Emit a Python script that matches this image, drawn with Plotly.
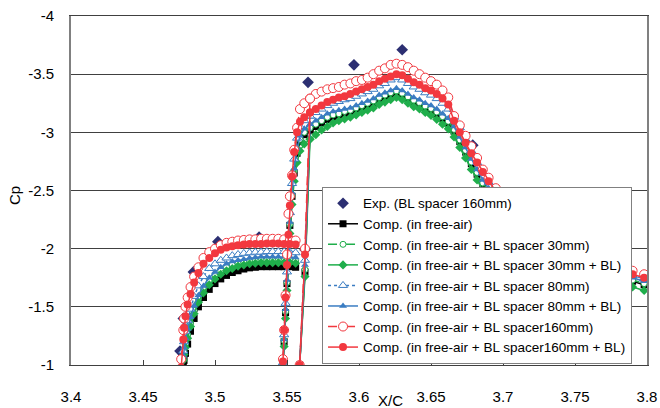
import plotly.graph_objects as go

# ---------------- data ----------------
# element 1 (upper surface)
X1 = [3.4765, 3.478, 3.4785, 3.4795, 3.481, 3.483, 3.4855, 3.4885, 3.492, 3.496, 3.5, 3.504, 3.508,
      3.512, 3.516, 3.52, 3.524, 3.528, 3.532, 3.536, 3.54, 3.544, 3.548, 3.552, 3.556]
# element 2 (leading edge + upper surface)
X2 = [3.5472, 3.548, 3.549, 3.550, 3.551, 3.552, 3.5535, 3.555, 3.557, 3.559, 3.562, 3.566, 3.570,
      3.574, 3.578, 3.582, 3.586, 3.590, 3.594, 3.598, 3.602, 3.606, 3.610, 3.614, 3.618, 3.622,
      3.626, 3.630, 3.634, 3.638, 3.642, 3.646, 3.650, 3.654, 3.658, 3.662, 3.666, 3.670, 3.674,
      3.678, 3.682, 3.686, 3.690, 3.695, 3.700, 3.705, 3.710, 3.716, 3.722, 3.728, 3.735, 3.742,
      3.750, 3.758, 3.766, 3.774, 3.782, 3.790, 3.798]
# element 2 (lower branch of leading edge)
X3 = [3.5588, 3.5625, 3.566]

free_air_1 = [-0.85, -1.0, -1.04, -1.1, -1.18, -1.29, -1.40, -1.50, -1.58, -1.65, -1.70, -1.74, -1.77,
              -1.795, -1.81, -1.825, -1.835, -1.84, -1.845, -1.845, -1.845, -1.845, -1.845, -1.845, -1.84]
free_air_2 = [-1.0, -1.2, -1.45, -1.7, -1.95, -2.2, -2.45, -2.65, -2.82, -2.92, -2.98, -3.02, -3.05,
              -3.08, -3.11, -3.13, -3.145, -3.16, -3.17, -3.19, -3.21, -3.23, -3.25, -3.28, -3.30, -3.32,
              -3.34, -3.32, -3.29, -3.26, -3.24, -3.21, -3.19, -3.16, -3.12, -3.08, -3.01, -2.92, -2.83,
              -2.73, -2.64, -2.55, -2.48, -2.41, -2.34, -2.28, -2.22, -2.16, -2.10, -2.05, -1.99, -1.94,
              -1.89, -1.85, -1.81, -1.78, -1.75, -1.72, -1.69]
free_air_3 = [-1.0, -1.8, -3.02]

sp30_1 = [-0.89, -1.06, -1.12, -1.18, -1.26, -1.36, -1.47, -1.57, -1.65, -1.72, -1.77, -1.81, -1.84,
          -1.86, -1.875, -1.885, -1.89, -1.895, -1.9, -1.9, -1.9, -1.9, -1.9, -1.9, -1.895]
sp30_2 = [-1.0, -1.21, -1.46, -1.71, -1.96, -2.21, -2.46, -2.67, -2.84, -2.94, -3.0, -3.04, -3.07,
          -3.1, -3.13, -3.15, -3.16, -3.18, -3.19, -3.21, -3.23, -3.25, -3.27, -3.3, -3.32, -3.34,
          -3.355, -3.335, -3.305, -3.275, -3.255, -3.225, -3.205, -3.175, -3.135, -3.095, -3.025, -2.935, -2.845,
          -2.745, -2.655, -2.565, -2.495, -2.425, -2.355, -2.295, -2.235, -2.175, -2.115, -2.065, -2.005, -1.955,
          -1.905, -1.865, -1.825, -1.79, -1.76, -1.73, -1.70]
sp30_3 = [-1.0, -1.82, -3.04]

sp30bl_1 = [-0.88, -1.04, -1.09, -1.15, -1.23, -1.33, -1.44, -1.54, -1.62, -1.69, -1.74, -1.78, -1.81,
            -1.83, -1.85, -1.86, -1.87, -1.875, -1.88, -1.88, -1.88, -1.88, -1.88, -1.88, -1.875]
sp30bl_2 = [-1.0, -1.16, -1.4, -1.64, -1.88, -2.13, -2.38, -2.58, -2.74, -2.84, -2.9, -2.94, -2.98,
            -3.02, -3.05, -3.08, -3.10, -3.115, -3.13, -3.15, -3.17, -3.19, -3.21, -3.24, -3.26, -3.28,
            -3.30, -3.28, -3.25, -3.22, -3.20, -3.17, -3.145, -3.11, -3.07, -3.03, -2.96, -2.87, -2.78,
            -2.68, -2.59, -2.50, -2.43, -2.36, -2.29, -2.23, -2.17, -2.11, -2.05, -2.0, -1.94, -1.89,
            -1.84, -1.80, -1.76, -1.73, -1.70, -1.67, -1.64]
sp30bl_3 = [-1.0, -1.76, -2.94]

sp80_1 = [-0.92, -1.12, -1.2, -1.29, -1.38, -1.48, -1.59, -1.68, -1.76, -1.83, -1.87, -1.9, -1.92,
          -1.94, -1.95, -1.96, -1.965, -1.97, -1.97, -1.975, -1.975, -1.975, -1.975, -1.97, -1.965]
sp80_2 = [-1.02, -1.26, -1.53, -1.8, -2.06, -2.31, -2.56, -2.77, -2.95, -3.05, -3.1, -3.14, -3.17,
          -3.2, -3.23, -3.25, -3.265, -3.28, -3.29, -3.31, -3.33, -3.35, -3.37, -3.40, -3.42, -3.45,
          -3.47, -3.45, -3.42, -3.39, -3.37, -3.34, -3.32, -3.29, -3.25, -3.2, -3.13, -3.04, -2.94,
          -2.84, -2.74, -2.65, -2.57, -2.49, -2.42, -2.35, -2.29, -2.22, -2.16, -2.1, -2.04, -1.99,
          -1.94, -1.9, -1.86, -1.83, -1.8, -1.77, -1.74]
sp80_3 = [-1.0, -1.9, -3.14]

sp80bl_1 = [-0.9, -1.08, -1.15, -1.23, -1.31, -1.41, -1.51, -1.6, -1.68, -1.75, -1.8, -1.84, -1.87,
            -1.89, -1.9, -1.91, -1.92, -1.925, -1.93, -1.93, -1.93, -1.93, -1.93, -1.93, -1.925]
sp80bl_2 = [-1.0, -1.22, -1.48, -1.73, -1.98, -2.23, -2.48, -2.69, -2.86, -2.97, -3.03, -3.07, -3.1,
            -3.13, -3.16, -3.18, -3.19, -3.2, -3.21, -3.23, -3.25, -3.27, -3.29, -3.32, -3.34, -3.36,
            -3.38, -3.36, -3.33, -3.30, -3.28, -3.25, -3.23, -3.2, -3.16, -3.12, -3.05, -2.96, -2.87,
            -2.77, -2.68, -2.59, -2.52, -2.45, -2.38, -2.32, -2.26, -2.2, -2.14, -2.085, -2.025, -1.975,
            -1.925, -1.88, -1.84, -1.81, -1.78, -1.75, -1.72]
sp80bl_3 = [-1.0, -1.86, -3.07]

sp160_1 = [-1.05, -1.3, -1.4, -1.5, -1.58, -1.67, -1.76, -1.84, -1.92, -1.97, -2.0, -2.03, -2.05,
           -2.06, -2.07, -2.075, -2.08, -2.08, -2.085, -2.085, -2.085, -2.085, -2.08, -2.075, -2.07]
sp160_2 = [-1.05, -1.3, -1.6, -1.95, -2.3, -2.45, -2.63, -2.85, -3.04, -3.2, -3.25, -3.29, -3.33,
           -3.35, -3.37, -3.38, -3.39, -3.41, -3.42, -3.44, -3.45, -3.47, -3.5, -3.53, -3.55, -3.58,
           -3.59, -3.58, -3.56, -3.53, -3.5, -3.47, -3.44, -3.41, -3.36, -3.3, -3.14, -3.06, -2.97,
           -2.88, -2.78, -2.68, -2.61, -2.52, -2.45, -2.38, -2.32, -2.26, -2.2, -2.14, -2.08, -2.03,
           -1.98, -1.94, -1.9, -1.87, -1.84, -1.81, -1.78]
sp160_3 = [-1.0, -2.0, -3.29]

sp160bl_1 = [-0.98, -1.22, -1.32, -1.42, -1.52, -1.61, -1.71, -1.79, -1.87, -1.92, -1.96, -1.99, -2.01,
             -2.02, -2.03, -2.035, -2.04, -2.04, -2.04, -2.045, -2.045, -2.045, -2.04, -2.04, -2.035]
sp160bl_2 = [-1.03, -1.3, -1.58, -1.86, -2.12, -2.37, -2.62, -2.83, -3.0, -3.09, -3.13, -3.17, -3.2,
             -3.23, -3.26, -3.28, -3.3, -3.31, -3.33, -3.35, -3.37, -3.39, -3.41, -3.44, -3.46, -3.48,
             -3.50, -3.49, -3.46, -3.43, -3.41, -3.38, -3.36, -3.33, -3.29, -3.24, -3.10, -3.0, -2.91,
             -2.82, -2.74, -2.66, -2.58, -2.49, -2.42, -2.36, -2.30, -2.24, -2.17, -2.11, -2.06, -2.01,
             -1.96, -1.91, -1.87, -1.84, -1.81, -1.78, -1.75]
sp160bl_3 = [-1.0, -1.95, -3.17]

exp_x = [3.4757, 3.478, 3.485, 3.502, 3.5306, 3.5625, 3.5646, 3.5965, 3.63, 3.679]
exp_cp = [-1.12, -1.4, -1.8, -2.06, -2.1, -1.99, -3.43, -3.58, -3.71, -2.89]

x_ticks = [3.4, 3.45, 3.5, 3.55, 3.6, 3.65, 3.7, 3.75, 3.8]
x_ticktext = ["3.4", "3.45", "3.5", "3.55", "3.6", "3.65", "3.7", "3.75", "3.8"]
y_ticks = [-4, -3.5, -3, -2.5, -2, -1.5, -1]
y_ticktext = ["-4", "-3.5", "-3", "-2.5", "-2", "-1.5", "-1"]

# ---------------- figure ----------------
FONT = "Arial, Liberation Sans, sans-serif"
GREEN = "#1fae4b"
BLUE = "#3a7cc2"
RED = "#f2383f"
NAVY = "#2c2f72"

xs = X1 + [None] + X2 + [None] + X3

def join(a, b, c):
    return a + [None] + b + [None] + c

fig = go.Figure()
fig.add_trace(go.Scatter(x=exp_x, y=exp_cp, mode="markers", name="Exp. (BL spacer 160mm)",
                         marker=dict(symbol="diamond", size=9, color=NAVY)))

series = [
    ("Comp. (in free-air)", join(free_air_1, free_air_2, free_air_3), "#000000", "solid",
     dict(symbol="square", size=7, color="#000000")),
    ("Comp. (in free-air + BL spacer 30mm)", join(sp30_1, sp30_2, sp30_3), GREEN, "dash",
     dict(symbol="circle", size=6, color="white", line=dict(color=GREEN, width=1))),
    ("Comp. (in free-air + BL spacer 30mm + BL)", join(sp30bl_1, sp30bl_2, sp30bl_3), GREEN, "solid",
     dict(symbol="diamond", size=7, color=GREEN)),
    ("Comp. (in free-air + BL spacer 80mm)", join(sp80_1, sp80_2, sp80_3), BLUE, "dot",
     dict(symbol="triangle-up", size=8, color="white", line=dict(color=BLUE, width=1))),
    ("Comp. (in free-air + BL spacer 80mm + BL)", join(sp80bl_1, sp80bl_2, sp80bl_3), BLUE, "solid",
     dict(symbol="triangle-up", size=7, color=BLUE)),
    ("Comp. (in free-air + BL spacer160mm)", join(sp160_1, sp160_2, sp160_3), RED, "dash",
     dict(symbol="circle", size=9, color="white", line=dict(color=RED, width=1))),
    ("Comp. (in free-air + BL spacer160mm + BL)", join(sp160bl_1, sp160bl_2, sp160bl_3), RED, "solid",
     dict(symbol="circle", size=8, color=RED)),
]
for name, ys, col, dash, mk in series:
    fig.add_trace(go.Scatter(x=xs, y=ys, mode="lines+markers", name=name,
                             line=dict(color=col, width=1.5, dash=dash), marker=mk,
                             connectgaps=False))

fig.update_layout(
    width=660, height=408,
    margin=dict(l=71, r=13, t=16, b=43, autoexpand=False),
    paper_bgcolor="white", plot_bgcolor="white",
    font=dict(family=FONT, size=15, color="#000000"),
    showlegend=True,
    legend=dict(x=0.974, xanchor="right", y=0.003, yanchor="bottom",
                bgcolor="white", bordercolor="#808080", borderwidth=1,
                font=dict(family=FONT, size=13.5, color="#000000"),
                tracegroupgap=0, itemwidth=30),
    annotations=[
        dict(text="X/C", x=0.554, y=-0.103, xref="paper", yref="paper", showarrow=False,
             font=dict(family=FONT, size=15), xanchor="center", yanchor="middle"),
        dict(text="Cp", x=-0.099, y=0.487, xref="paper", yref="paper", showarrow=False,
             textangle=-90, font=dict(family=FONT, size=15), xanchor="center", yanchor="middle"),
    ],
)
fig.update_xaxes(range=[3.4, 3.8], tickvals=x_ticks, ticktext=x_ticktext, automargin=False,
                 showgrid=False, zeroline=False, ticks="inside", ticklen=5, tickcolor="#404040",
                 showline=True, linecolor="#404040", linewidth=1, mirror=True,
                 ticklabelstandoff=18, tickfont=dict(family=FONT, size=15))
fig.update_yaxes(range=[-1, -4], tickvals=y_ticks, ticktext=y_ticktext, automargin=False,
                 showgrid=True, gridcolor="#404040", gridwidth=1, zeroline=False, ticks="",
                 showline=True, linecolor="#808080", linewidth=2, mirror=True,
                 ticklabelstandoff=12, tickfont=dict(family=FONT, size=15))

fig.write_html("out.html")
